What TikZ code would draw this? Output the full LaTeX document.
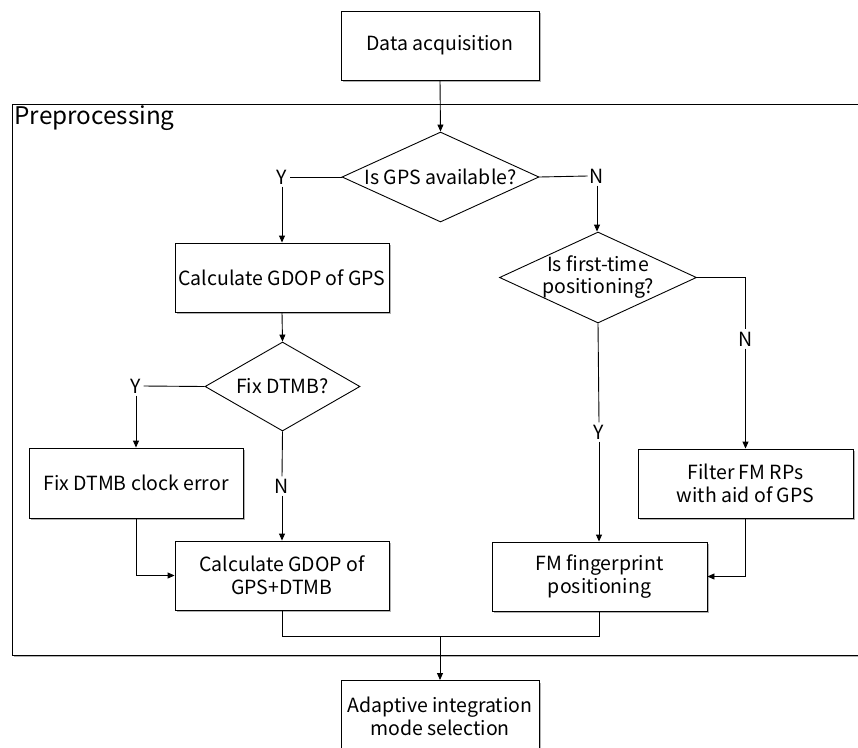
\documentclass[tikz,border=0pt]{standalone}
\usepackage{fontspec}
\setmainfont{Noto Sans CJK SC}
\usetikzlibrary{shapes.geometric,arrows.meta}
\begin{document}
\begin{tikzpicture}[x=1pt,y=-1pt,
  line width=0.9pt,
  shd/.style={preaction={fill=black!30, draw=none, transform canvas={xshift=1.6pt,yshift=-2.2pt}}},
  box/.style={draw, fill=white, rectangle, inner sep=0pt, align=center, shd,
    font=\fontsize{19.5}{23}\selectfont},
  dec/.style={draw, fill=white, diamond, inner sep=0pt},
  dectext/.style={inner sep=0pt, align=center, font=\fontsize{19.5}{22}\selectfont},
  yn/.style={inner sep=2pt, font=\fontsize{19.5}{22}\selectfont},
  arr/.style={-{Triangle[length=7pt,width=6pt]}}
]
\useasboundingbox (0,0) rectangle (858,747);
\clip (0,0) rectangle (858,747);
\fill[white] (0,0) rectangle (858,747);

% frame
\path[draw, fill=white, shd] (12,104) rectangle (900,655);
\node[anchor=north west, inner sep=0pt, font=\fontsize{24.3}{28}\selectfont] (pre) at (14,105) {Preprocessing};

% nodes
\node[box, minimum width=198pt, minimum height=69pt] (da) at (440,45.5) {Data acquisition};
\node[dec, minimum width=197pt, minimum height=90pt] (gps) at (440.5,177) {};
\node[dectext] (gpst) at (gps.center) {Is GPS available?};
\node[yn] (y1) at (282,177) {Y};
\node[yn] (n1) at (597,176) {N};
\node[box, minimum width=214pt, minimum height=69pt] (c1) at (282,277.5) {Calculate GDOP of GPS};
\node[dec, minimum width=197pt, minimum height=91pt] (ft) at (598,277.5) {};
\node[dectext] (ftt) at (ft.center) {Is first-time\\positioning?};
\node[dec, minimum width=155pt, minimum height=89pt] (fd) at (282.5,386.5) {};
\node[dectext] (fdt) at (fd.center) {Fix DTMB?};
\node[yn] (y2) at (136,386) {Y};
\node[yn] (n3) at (745.5,339) {N};
\node[box, minimum width=214pt, minimum height=70pt] (fc) at (136,483) {Fix DTMB clock error};
\node[yn] (n2) at (282,486) {N};
\node[yn] (y3) at (599,432) {Y};
\node[box, minimum width=215pt, minimum height=69pt] (fi) at (745.5,483.5) {Filter FM RPs\\with aid of GPS};
\node[box, minimum width=214pt, minimum height=69pt] (c2) at (282,575.5) {Calculate GDOP of\\GPS+DTMB};
\node[box, minimum width=215pt, minimum height=69pt] (fm) at (599.5,576.5) {FM fingerprint\\positioning};
\node[box, minimum width=198pt, minimum height=72pt, anchor=north] (ad) at (440,680) {Adaptive integration\\mode selection};
\coordinate (m) at (440,636);

% connectors
\draw[arr] (da.south) -- (gps.north);
\draw (gps.west) -- (y1.east);
\draw[arr] (y1.south) -- (c1.north);
\draw (gps.east) -- (n1.west);
\draw[arr] (n1.south) -- (n1.south |- ft.north);
\draw[arr] (c1.south) -- (fd.north);
\draw (fd.west) -- (y2.east);
\draw[arr] (y2.south) -- (fc.north);
\draw (fd.south) -- (n2.north);
\draw[arr] (n2.south) -- (c2.north);
\draw[arr] (fc.south) |- (c2.west);
\draw (ft.east) -| (n3.north);
\draw[arr] (n3.south) -- (fi.north);
\draw (ft.south) -- (y3.north);
\draw[arr] (y3.south) -- (y3.south |- fm.north);
\draw[arr] (fi.south) |- (fm.east);
\draw (c2.south) |- (m) -| (fm.south);
\draw[arr] (m) -- (ad.north);
\end{tikzpicture}
\end{document}
